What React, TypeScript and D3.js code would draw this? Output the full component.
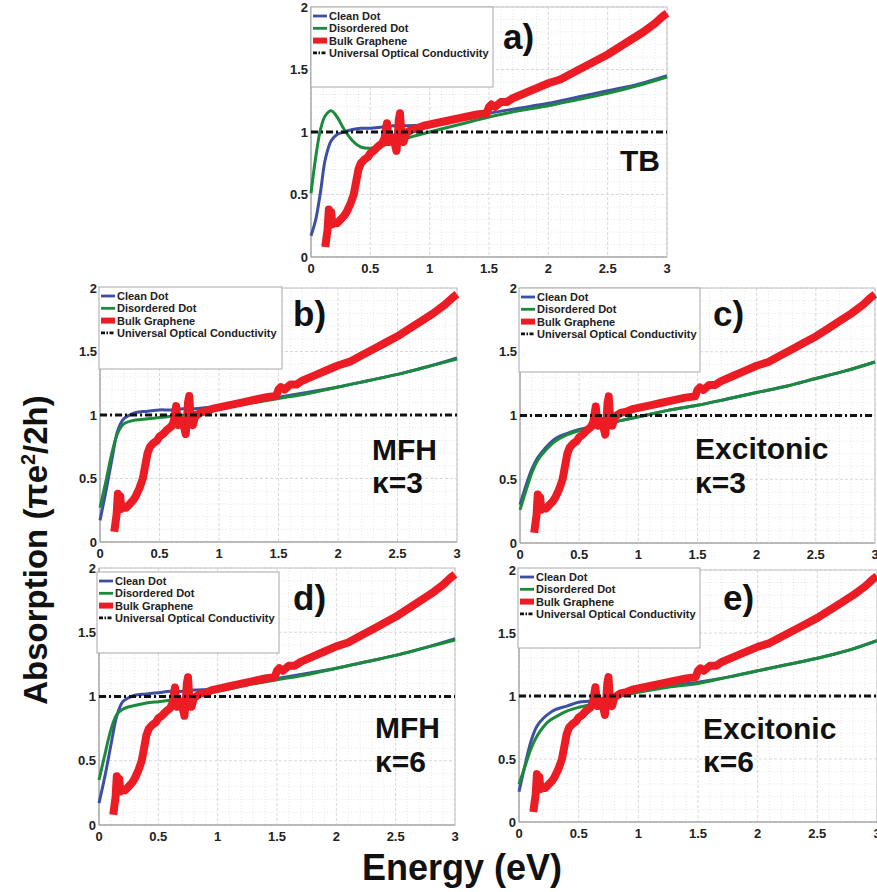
import React from 'react';
import * as d3 from 'd3';

// tick values
const energyTicks = [0, 0.5, 1, 1.5, 2, 2.5, 3];
const absorptionTicks = [0, 0.5, 1, 1.5, 2];
const energyTickLabels = ['0', '0.5', '1', '1.5', '2', '2.5', '3'];
const absorptionTickLabels = ['0', '0.5', '1', '1.5', '2'];

const legendLabels = ['Clean Dot', 'Disordered Dot', 'Bulk Graphene', 'Universal Optical Conductivity'];

// energies at which the dot spectra were read
const dotEnergy = [0, 0.05, 0.1, 0.15, 0.2, 0.25, 0.3, 0.4, 0.5, 0.6, 0.7, 0.8, 1.0, 1.25, 1.5, 1.75, 2.0, 2.25, 2.5, 2.75, 3.0];
// TB has a finer read near the green bump
const dotEnergyTB = [0, 0.04, 0.08, 0.12, 0.17, 0.22, 0.28, 0.35, 0.42, 0.5, 0.6, 0.7, 0.8, 1.0, 1.25, 1.5, 1.75, 2.0, 2.25, 2.5, 2.75, 3.0];

const cleanTB = [0.17, 0.3, 0.52, 0.78, 0.93, 0.98, 1.0, 1.02, 1.03, 1.03, 1.04, 1.05, 1.05, 1.06, 1.1, 1.15, 1.19, 1.23, 1.28, 1.33, 1.38, 1.45];
const disorderedTB = [0.51, 0.8, 1.02, 1.13, 1.17, 1.12, 1.02, 0.93, 0.88, 0.87, 0.89, 0.92, 0.95, 1.0, 1.06, 1.12, 1.17, 1.21, 1.26, 1.31, 1.37, 1.44];

const cleanMFH3 = [0.17, 0.4, 0.65, 0.88, 0.97, 1.0, 1.02, 1.03, 1.04, 1.04, 1.05, 1.05, 1.07, 1.1, 1.14, 1.18, 1.22, 1.27, 1.32, 1.38, 1.45];
const disorderedMFH3 = [0.27, 0.48, 0.7, 0.86, 0.93, 0.95, 0.96, 0.97, 0.98, 0.99, 1.0, 1.02, 1.05, 1.09, 1.13, 1.17, 1.22, 1.27, 1.32, 1.38, 1.44];

const cleanExc3 = [0.3, 0.45, 0.58, 0.67, 0.73, 0.78, 0.82, 0.86, 0.89, 0.91, 0.93, 0.95, 0.99, 1.04, 1.08, 1.13, 1.18, 1.23, 1.29, 1.35, 1.42];
const disorderedExc3 = [0.26, 0.41, 0.55, 0.65, 0.71, 0.76, 0.8, 0.85, 0.88, 0.9, 0.93, 0.95, 0.99, 1.04, 1.08, 1.13, 1.18, 1.23, 1.29, 1.35, 1.42];

const cleanMFH6 = [0.17, 0.38, 0.62, 0.85, 0.96, 0.99, 1.01, 1.02, 1.03, 1.04, 1.04, 1.05, 1.06, 1.1, 1.14, 1.18, 1.22, 1.27, 1.32, 1.38, 1.45];
const disorderedMFH6 = [0.35, 0.55, 0.74, 0.86, 0.9, 0.92, 0.93, 0.95, 0.96, 0.97, 0.98, 1.0, 1.04, 1.09, 1.13, 1.17, 1.22, 1.27, 1.32, 1.38, 1.44];

const cleanExc6 = [0.24, 0.45, 0.64, 0.76, 0.82, 0.86, 0.89, 0.92, 0.95, 0.96, 0.98, 1.0, 1.04, 1.08, 1.11, 1.15, 1.2, 1.25, 1.3, 1.36, 1.44];
const disorderedExc6 = [0.3, 0.44, 0.58, 0.68, 0.75, 0.8, 0.83, 0.88, 0.91, 0.93, 0.96, 0.99, 1.03, 1.07, 1.1, 1.15, 1.2, 1.25, 1.3, 1.36, 1.44];

// bulk graphene (same in every panel), read by hand incl. the spikes
const bulkEnergy = [0.12, 0.13, 0.14, 0.15, 0.16, 0.17, 0.18, 0.2, 0.22, 0.25, 0.28, 0.3, 0.33, 0.36, 0.38, 0.4, 0.42, 0.45, 0.48, 0.5, 0.53, 0.56, 0.6, 0.62, 0.64, 0.65, 0.66, 0.68, 0.7, 0.72, 0.73, 0.74, 0.75, 0.76, 0.78, 0.8, 0.85, 0.9, 0.95, 1.0, 1.1, 1.2, 1.3, 1.4, 1.48, 1.5, 1.52, 1.55, 1.6, 1.65, 1.7, 1.8, 1.9, 2.0, 2.1, 2.2, 2.3, 2.4, 2.5, 2.6, 2.7, 2.8, 2.9, 2.97, 3.0];
const bulkAbs = [0.08, 0.15, 0.22, 0.38, 0.3, 0.36, 0.26, 0.28, 0.27, 0.3, 0.33, 0.36, 0.42, 0.5, 0.6, 0.7, 0.75, 0.78, 0.8, 0.83, 0.85, 0.88, 0.91, 0.95, 1.07, 0.98, 0.92, 0.96, 0.93, 0.85, 0.95, 1.1, 1.15, 1.0, 0.92, 0.99, 1.02, 1.03, 1.05, 1.06, 1.08, 1.1, 1.12, 1.14, 1.15, 1.2, 1.22, 1.2, 1.24, 1.24, 1.27, 1.31, 1.35, 1.39, 1.42, 1.47, 1.52, 1.57, 1.62, 1.68, 1.74, 1.8, 1.87, 1.93, 1.95];

const universalEnergy = [0, 3];
const universalAbs = [1, 1];

const BLUE = '#3e4fa3';
const GREEN = '#1c8a3c';
const RED = '#ec1c24';
const FONT = '"Liberation Sans", Arial, sans-serif';

const panels = [
  { id: 'a', x0: 311, x1: 667, yTop: 7, yBot: 257, letter: 'a)', lx: 503, ly: 49, note: ['TB'], nx: 620, ny: [171],
    legend: [311, 7, 182, 80], cleanE: dotEnergyTB, clean: cleanTB, disE: dotEnergyTB, dis: disorderedTB },
  { id: 'b', x0: 100, x1: 457, yTop: 288, yBot: 542, letter: 'b)', lx: 293, ly: 326, note: ['MFH', 'κ=3'], nx: 372, ny: [460, 493],
    legend: [99, 287, 183, 82], cleanE: dotEnergy, clean: cleanMFH3, disE: dotEnergy, dis: disorderedMFH3 },
  { id: 'c', x0: 520, x1: 875, yTop: 288, yBot: 543, letter: 'c)', lx: 713, ly: 326, note: ['Excitonic', 'κ=3'], nx: 695, ny: [459, 493],
    legend: [519, 288, 181, 84], cleanE: dotEnergy, clean: cleanExc3, disE: dotEnergy, dis: disorderedExc3 },
  { id: 'd', x0: 99, x1: 455, yTop: 568, yBot: 825, letter: 'd)', lx: 293, ly: 610, note: ['MFH', 'κ=6'], nx: 375, ny: [738, 772],
    legend: [97, 572, 182, 81], cleanE: dotEnergy, clean: cleanMFH6, disE: dotEnergy, dis: disorderedMFH6 },
  { id: 'e', x0: 519, x1: 877, yTop: 570, yBot: 822, letter: 'e)', lx: 723, ly: 610, note: ['Excitonic', 'κ=6'], nx: 703, ny: [739, 772],
    legend: [518, 568, 182, 80], cleanE: dotEnergy, clean: cleanExc6, disE: dotEnergy, dis: disorderedExc6 },
];

function Panel({ p }: { p: any }) {
  const x = d3.scaleLinear().domain([0, 3]).range([p.x0, p.x1]);
  const y = d3.scaleLinear().domain([0, 2]).range([p.yBot, p.yTop]);
  const smooth = d3.line<[number, number]>().x(d => x(d[0])).y(d => y(d[1])).curve(d3.curveCatmullRom);
  const raw = d3.line<[number, number]>().x(d => x(d[0])).y(d => y(d[1]));
  const zip = (a: number[], b: number[]) => a.map((v, i) => [v, b[i]] as [number, number]);

  const minorX = x.ticks(30);
  const minorY = y.ticks(20);
  const [bx, by, bw, bh] = p.legend;
  const rowY = (i: number) => by + 13 + i * 12.3;
  const isMajor = (v: number, list: number[]) => list.includes(+v.toFixed(2));

  return (
    <g>
      {/* grid */}
      {minorX.map(v => (
        <line key={'gx' + v} x1={x(v)} x2={x(v)} y1={p.yTop} y2={p.yBot}
          stroke={isMajor(v, energyTicks) ? '#d8d8d8' : '#e8e8e8'} strokeWidth={1}
          strokeDasharray={isMajor(v, energyTicks) ? '3,2' : '1,2'} />
      ))}
      {minorY.map(v => (
        <line key={'gy' + v} x1={p.x0} x2={p.x1} y1={y(v)} y2={y(v)}
          stroke={isMajor(v, absorptionTicks) ? '#d8d8d8' : '#e8e8e8'} strokeWidth={1}
          strokeDasharray={isMajor(v, absorptionTicks) ? '3,2' : '1,2'} />
      ))}
      <rect x={p.x0} y={p.yTop} width={p.x1 - p.x0} height={p.yBot - p.yTop} fill="none" stroke="#c4c4c4" strokeWidth={1} />
      <line x1={p.x0} x2={p.x0} y1={p.yTop} y2={p.yBot} stroke="#9a9a9a" />
      <line x1={p.x0} x2={p.x1} y1={p.yBot} y2={p.yBot} stroke="#9a9a9a" />

      {/* tick labels */}
      {energyTicks.map((v, i) => (
        <text key={'tx' + v} x={x(v)} y={p.yBot + 16} textAnchor="middle" fontFamily={FONT} fontWeight="bold" fontSize={13} fill="#222">
          {energyTickLabels[i]}
        </text>
      ))}
      {absorptionTicks.map((v, i) => (
        <text key={'ty' + v} x={p.x0 - 3} y={y(v)} dy="0.35em" textAnchor="end" fontFamily={FONT} fontWeight="bold" fontSize={13} fill="#222">
          {absorptionTickLabels[i]}
        </text>
      ))}

      {/* series */}
      <path d={smooth(zip(p.cleanE, p.clean)) || ''} fill="none" stroke={BLUE} strokeWidth={3} />
      <path d={smooth(zip(p.disE, p.dis)) || ''} fill="none" stroke={GREEN} strokeWidth={3} />
      <path d={raw(zip(bulkEnergy, bulkAbs)) || ''} fill="none" stroke={RED} strokeWidth={8} strokeLinejoin="round" />
      <path d={raw(zip(universalEnergy, universalAbs)) || ''} fill="none" stroke="#111" strokeWidth={2.8} strokeDasharray="7,3,2,3" />

      {/* legend */}
      <rect x={bx} y={by} width={bw} height={bh} fill="#fff" stroke="#a8a8a8" strokeWidth={1} />
      <line x1={bx + 2} x2={bx + 16} y1={rowY(0) - 4} y2={rowY(0) - 4} stroke={BLUE} strokeWidth={2.8} />
      <line x1={bx + 2} x2={bx + 16} y1={rowY(1) - 4} y2={rowY(1) - 4} stroke={GREEN} strokeWidth={2.8} />
      <line x1={bx + 2} x2={bx + 16} y1={rowY(2) - 4} y2={rowY(2) - 4} stroke={RED} strokeWidth={6} />
      <line x1={bx + 2} x2={bx + 16} y1={rowY(3) - 4} y2={rowY(3) - 4} stroke="#111" strokeWidth={2.8} strokeDasharray="4,1.5,1.5,1.5" />
      {legendLabels.map((t, i) => (
        <text key={t} x={bx + 18} y={rowY(i)} fontFamily={FONT} fontWeight="bold" fontSize={11} fill="#222">{t}</text>
      ))}

      {/* annotations */}
      <text x={p.lx} y={p.ly} fontFamily={FONT} fontWeight="bold" fontSize={35} fill="#111">{p.letter}</text>
      {p.note.map((t: string, i: number) => (
        <text key={t} x={p.nx} y={p.ny[i]} fontFamily={FONT} fontWeight="bold" fontSize={30} fill="#111">{t}</text>
      ))}
    </g>
  );
}

export default function App() {
  return (
    <svg width={877} height={892} style={{ position: 'absolute', left: 0, top: 0, background: '#fff' }}>
      <rect x={0} y={0} width={877} height={892} fill="#fff" />
      {panels.map(p => <Panel key={p.id} p={p} />)}
      <text x={462} y={880} textAnchor="middle" fontFamily={FONT} fontWeight="bold" fontSize={36} fill="#111">Energy (eV)</text>
      <text transform="translate(47,550) rotate(-90)" textAnchor="middle" fontFamily={FONT} fontWeight="bold" fontSize={33} fill="#111">
        Absorption (πe<tspan fontSize={20} dy={-12}>2</tspan><tspan dy={12}>/2h)</tspan>
      </text>
    </svg>
  );
}
